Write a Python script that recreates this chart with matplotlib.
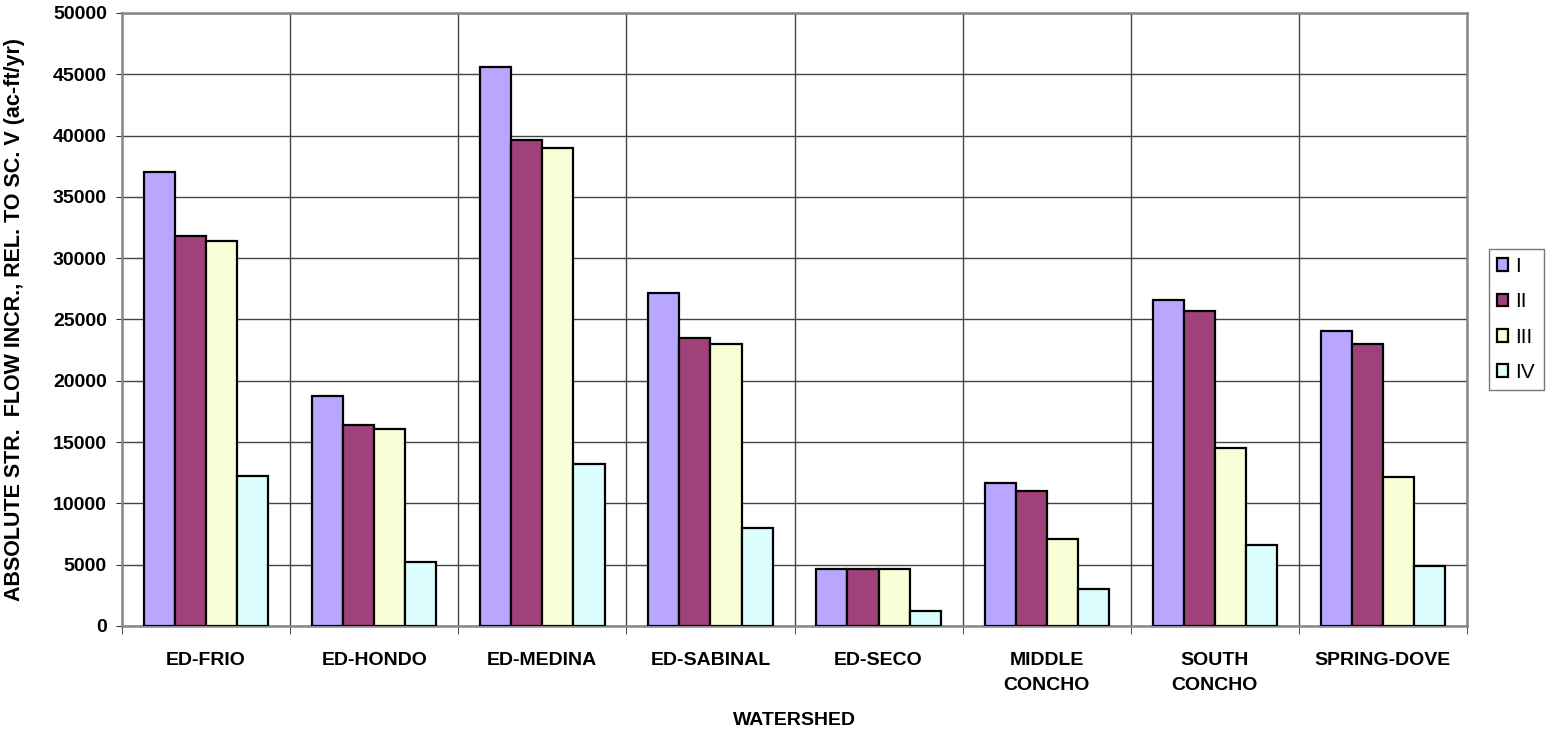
import numpy as np
import matplotlib.pyplot as plt
from matplotlib.ticker import MultipleLocator, FixedLocator

watersheds = ["ED-FRIO", "ED-HONDO", "ED-MEDINA", "ED-SABINAL", "ED-SECO",
              "MIDDLE\nCONCHO", "SOUTH\nCONCHO", "SPRING-DOVE"]
scen_I = [37000, 18770, 45600, 27140, 4680, 11630, 26600, 24080]
scen_II = [31800, 16400, 39650, 23480, 4630, 10980, 25730, 22990]
scen_III = [31400, 16050, 39000, 22970, 4650, 7110, 14490, 12140]
scen_IV = [12250, 5240, 13200, 8030, 1220, 2990, 6600, 4890]
series_names = ["I", "II", "III", "IV"]
colors = ["#B9A7FF", "#A04179", "#F7FFD6", "#DCFEFE"]

plt.rcParams['font.family'] = ['Liberation Sans', 'DejaVu Sans']

fig = plt.figure(figsize=(15.47, 7.47), dpi=100)
ax = fig.add_axes([0.0789, 0.162, 0.8694, 0.8206])

x = np.arange(len(watersheds))
w = 0.185
all_series = [scen_I, scen_II, scen_III, scen_IV]
for i, vals in enumerate(all_series):
    ax.bar(x + (i - 1.5) * w, vals, width=w, color=colors[i],
           edgecolor='black', linewidth=1.6, label=series_names[i], zorder=3)

ax.set_xlim(-0.5, len(watersheds) - 0.5)
ax.set_ylim(0, 50000)
ax.yaxis.set_major_locator(MultipleLocator(5000))
ax.set_xticks(x)
ax.set_xticklabels(watersheds, fontsize=14, fontweight='bold', linespacing=1.6,
                   va='top')
ax.tick_params(axis='x', which='major', length=0, pad=19)
ax.xaxis.set_minor_locator(FixedLocator(np.arange(-0.5, len(watersheds), 1.0)))
ax.tick_params(axis='x', which='minor', length=6, direction='out', color='#333333')
ax.tick_params(axis='y', length=4, direction='out', color='#333333', labelsize=14, pad=7)
for lab in ax.get_yticklabels():
    lab.set_fontweight('bold')

ax.grid(axis='y', which='major', color='#444444', linewidth=1.0, zorder=0)
ax.grid(axis='x', which='minor', color='#444444', linewidth=1.0, zorder=0)
ax.set_axisbelow(True)
for s in ax.spines.values():
    s.set_color('#888888')
    s.set_linewidth(1.8)

ax.set_ylabel("ABSOLUTE STR.  FLOW INCR., REL. TO SC. V (ac-ft/yr)",
              fontsize=15.5, fontweight='bold')
ax.yaxis.set_label_coords(-0.072, 0.5)
ax.set_xlabel("WATERSHED", fontsize=14, fontweight='bold')
ax.xaxis.set_label_coords(0.5, -0.14)

leg = ax.legend(loc='center left', bbox_to_anchor=(1.016, 0.50), fontsize=15,
                frameon=True, fancybox=False, edgecolor='#555555',
                handlelength=0.55, handleheight=0.55, handletextpad=0.35,
                labelspacing=0.78, borderpad=0.4, borderaxespad=0)
leg.get_frame().set_linewidth(1.0)

plt.savefig('out.png', dpi=100)
